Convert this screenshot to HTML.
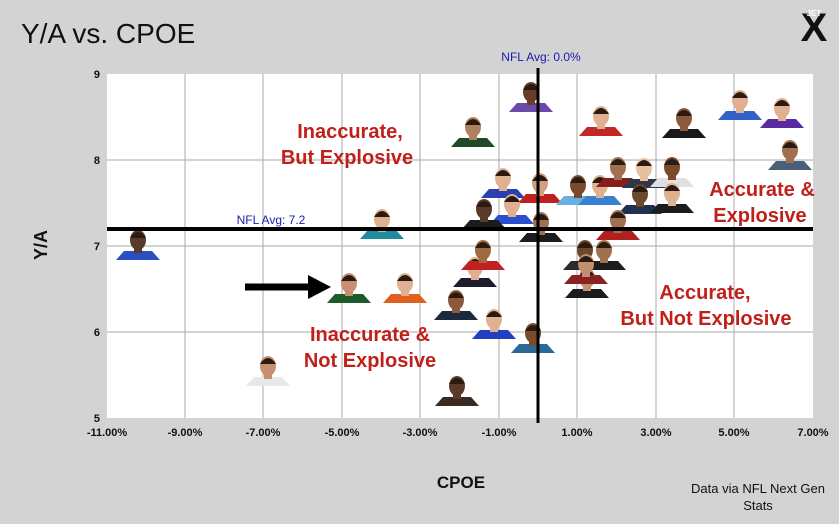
<!DOCTYPE html>
<html><head><meta charset="utf-8"><style>
body{margin:0;background:#d3d3d3;width:839px;height:519px;overflow:hidden;font-family:"Liberation Sans",sans-serif}
</style></head><body>
<svg width="839" height="519" xmlns="http://www.w3.org/2000/svg" font-family="Liberation Sans, sans-serif">
<rect width="839" height="519" fill="#d3d3d3"/>
<text x="21" y="43" font-size="28" fill="#111">Y/A vs. CPOE</text>
<g transform="translate(814,22)"><text x="0" y="19" text-anchor="middle" font-size="40" font-weight="bold" fill="#111">X</text><text x="0" y="-6" text-anchor="middle" font-size="8" font-weight="bold" fill="#fff">JET</text></g>
<rect x="107" y="74" width="706" height="344" fill="#fff"/>
<g stroke="#aaa" stroke-width="1">
<line x1="185" y1="74" x2="185" y2="418"/><line x1="263" y1="74" x2="263" y2="418"/><line x1="342" y1="74" x2="342" y2="418"/><line x1="420" y1="74" x2="420" y2="418"/><line x1="499" y1="74" x2="499" y2="418"/><line x1="577" y1="74" x2="577" y2="418"/><line x1="656" y1="74" x2="656" y2="418"/><line x1="734" y1="74" x2="734" y2="418"/>
<line x1="107" y1="160" x2="813" y2="160"/><line x1="107" y1="246" x2="813" y2="246"/><line x1="107" y1="332" x2="813" y2="332"/>
</g>
<g id="players"></g>
<line x1="107" y1="229" x2="813" y2="229" stroke="#000" stroke-width="4"/>
<line x1="538" y1="68" x2="538" y2="423" stroke="#000" stroke-width="3"/>
<text x="541" y="61" font-size="12" fill="#1a1ab0" text-anchor="middle">NFL Avg: 0.0%</text>
<text x="271" y="224" font-size="12" fill="#1a1ab0" text-anchor="middle">NFL Avg: 7.2</text>
<g font-size="20" font-weight="bold" fill="#c0201a" text-anchor="middle">
<text x="350" y="138">Inaccurate,</text><text x="347" y="164">But Explosive</text>
<text x="370" y="341">Inaccurate &amp;</text><text x="370" y="367">Not Explosive</text>
<text x="762" y="196">Accurate &amp;</text><text x="760" y="222">Explosive</text>
<text x="705" y="299">Accurate,</text><text x="706" y="325">But Not Explosive</text>
</g>
<line x1="245" y1="287" x2="310" y2="287" stroke="#000" stroke-width="7"/>
<polygon points="308,275 331,287 308,299" fill="#000"/>
<g font-size="11" font-weight="bold" fill="#111" text-anchor="end">
<text x="100" y="78">9</text><text x="100" y="164">8</text><text x="100" y="250">7</text><text x="100" y="336">6</text><text x="100" y="422">5</text>
</g>
<g font-size="11" font-weight="bold" fill="#111" text-anchor="middle">
<text x="107" y="436">-11.00%</text><text x="185" y="436">-9.00%</text><text x="263" y="436">-7.00%</text><text x="342" y="436">-5.00%</text><text x="420" y="436">-3.00%</text><text x="499" y="436">-1.00%</text><text x="577" y="436">1.00%</text><text x="656" y="436">3.00%</text><text x="734" y="436">5.00%</text><text x="813" y="436">7.00%</text>
</g>
<text x="461" y="488" font-size="17" font-weight="bold" fill="#111" text-anchor="middle">CPOE</text>
<text transform="translate(47,245) rotate(-90)" font-size="18" font-weight="bold" fill="#111" text-anchor="middle">Y/A</text>
<text x="758" y="493" font-size="13" fill="#111" text-anchor="middle">Data via NFL Next Gen</text>
<text x="758" y="510" font-size="13" fill="#111" text-anchor="middle">Stats</text>
</svg>
<script>
var P=[[138,260,"#2a4fc0","#5a3a2a"],[268,386,"#e8e8e8","#c89070"],[382,239,"#1e8c9c","#e0b090"],[349,303,"#1f5a2a","#c89070"],[405,303,"#e06020","#e0b090"],[473,147,"#1f4a2a","#b08060"],[456,320,"#1c2a40","#8a5a3a"],[457,406,"#3a2a20","#5a3a2a"],[475,287,"#1c1c2c","#e0b090"],[483,270,"#c02020","#a06a40"],[494,339,"#2040c0","#e0b090"],[533,353,"#2a6a9a","#7a4a2a"],[531,112,"#6a4aa8","#6a3a2a"],[601,136,"#c02828","#e0b090"],[684,138,"#1a1a1a","#8a5a3a"],[740,120,"#3060c8","#e0b090"],[782,128,"#5a2aa0","#e0b090"],[790,170,"#4a6078","#a07050"],[503,198,"#2a40b0","#e0b090"],[540,203,"#c02020","#d0a080"],[512,224,"#2a50d0","#e0b090"],[484,229,"#1c1c1c","#5a3a2a"],[541,242,"#1c1c1c","#a07050"],[578,205,"#6ab0e0","#7a4a2a"],[600,205,"#3a80d0","#e0b090"],[618,187,"#8a1c1c","#a07050"],[644,188,"#303848","#e8c0a0"],[672,187,"#e0e0e0","#7a4a2a"],[640,214,"#203050","#6a4a2a"],[672,213,"#1c1c1c","#e0b090"],[618,240,"#b02020","#a07050"],[585,270,"#2a2a2a","#6a4a2a"],[604,270,"#1c1c1c","#a07050"],[587,298,"#1c1c1c","#c09070"],[586,284,"#8a2020","#c09070"]];
var g=document.getElementById("players"),s="";
P.forEach(function(p){var x=p[0],y=p[1];
s+='<path d="M'+(x-22)+' '+y+' L'+(x-14)+' '+(y-9)+' L'+(x+14)+' '+(y-9)+' L'+(x+22)+' '+y+' Z" fill="'+p[2]+'"/>';
s+='<rect x="'+(x-4)+'" y="'+(y-13)+'" width="8" height="6" fill="'+p[3]+'"/>';
s+='<ellipse cx="'+x+'" cy="'+(y-20)+'" rx="8" ry="10" fill="'+p[3]+'"/>';
s+='<path d="M'+(x-8)+' '+(y-22)+' Q'+x+' '+(y-34)+' '+(x+8)+' '+(y-22)+' Z" fill="#2a1a10"/>';});
g.innerHTML=s;
</script>
</body></html>
